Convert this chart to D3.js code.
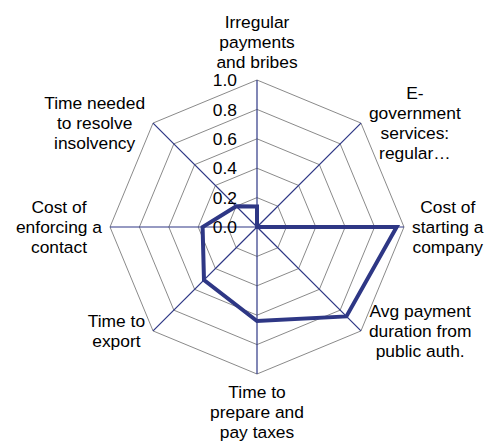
<!DOCTYPE html>
<html>

<head>
  <meta http-equiv="content-type" content="text/html; charset=utf-8">
  <title>Radar</title>
  <style>
    body {
      margin: 0;
      background: #fff;
    }

    text {
      font-family: "Liberation Sans", Arial, sans-serif;
      font-size: 17.4px;
      fill: #000;
    }

    .grid {
      fill: none;
      stroke: #8a8a8a;
      stroke-width: 1;
    }

    .spoke {
      stroke: #2e3785;
      stroke-width: 1.2;
    }

    .series {
      fill: none;
      stroke: #2e3785;
      stroke-width: 4;
      stroke-linejoin: miter;
    }
  </style>
</head>

<body>
  <svg id="canvas"></svg>
  <script src="https://d3js.org/d3.v7.min.js"></script>
  <script>

    // axis labels, clockwise from the top (each entry = lines of the label)
    const categories = [
      ["Irregular", "payments", "and bribes"],
      ["E-", "government", "services:", "regular…"],
      ["Cost of", "starting a", "company"],
      ["Avg payment", "duration from", "public auth."],
      ["Time to", "prepare and", "pay taxes"],
      ["Time to", "export"],
      ["Cost of", "enforcing a", "contact"],
      ["Time needed", "to resolve", "insolvency"]
    ];

    const values = [0.14, 0.0, 0.95, 0.86, 0.64, 0.51, 0.37, 0.20];

    const ticks = [0.0, 0.2, 0.4, 0.6, 0.8, 1.0];

    const dims = { 'width': 487, 'height': 441, 'cx': 257, 'cy': 227, 'radius': 147, 'line_h': 20, 'gap': 8 };

    const svg = d3.select("svg#canvas")
      .attr("width", dims.width)
      .attr("height", dims.height);

    const r = d3.scaleLinear().domain([0, 1]).range([0, dims.radius]);
    const angle = d3.scaleLinear().domain([0, categories.length]).range([0, 2 * Math.PI]);

    const pt = (i, v) => [Math.sin(angle(i)) * r(v), -Math.cos(angle(i)) * r(v)];

    const chart = svg.append("g")
      .attr("transform", "translate(" + dims.cx + "," + dims.cy + ")");

    // octagon grid
    chart.selectAll(".grid")
      .data(ticks.filter(t => t > 0))
      .enter().append("path")
      .attr("class", "grid")
      .attr("d", t => d3.line()(categories.map((_, i) => pt(i, t))) + "Z");

    // spokes
    chart.selectAll(".spoke")
      .data(categories)
      .enter().append("line")
      .attr("class", "spoke")
      .attr("x1", 0).attr("y1", 0)
      .attr("x2", (_, i) => pt(i, 1)[0])
      .attr("y2", (_, i) => pt(i, 1)[1]);

    // tick labels
    chart.selectAll(".tick_label")
      .data(ticks)
      .enter().append("text")
      .attr("class", "tick_label")
      .attr("x", -20)
      .attr("y", t => -r(t))
      .attr("dy", "0.35em")
      .attr("text-anchor", "end")
      .text(t => t.toFixed(1));

    // data polygon
    chart.append("path")
      .attr("class", "series")
      .attr("d", d3.line()(values.map((v, i) => pt(i, v))) + "Z");

    // axis labels
    const labels = chart.selectAll(".cat_label")
      .data(categories)
      .enter().append("text")
      .attr("class", "cat_label")
      .attr("text-anchor", "middle");

    labels.each(function (lines, i) {
      const g = d3.select(this);
      lines.forEach(l => g.append("tspan").text(l));
      const w = d3.max(g.selectAll("tspan").nodes(), n => n.getComputedTextLength());
      const [ex, ey] = pt(i, 1);
      const s = Math.sin(angle(i)), c = Math.cos(angle(i));
      let x = ex, top;
      if (s > 0.3) x = ex + dims.gap + w / 2;
      else if (s < -0.3) x = ex - dims.gap - w / 2;
      const h = lines.length * dims.line_h;
      if (c > 0.9) top = ey - dims.gap - h;
      else if (c < -0.9) top = ey + dims.gap;
      else top = ey - h / 2;
      g.selectAll("tspan")
        .attr("x", x)
        .attr("y", (_, j) => top + dims.line_h * (j + 0.5))
        .attr("dy", "0.35em");
    });

  </script>
</body>

</html>
